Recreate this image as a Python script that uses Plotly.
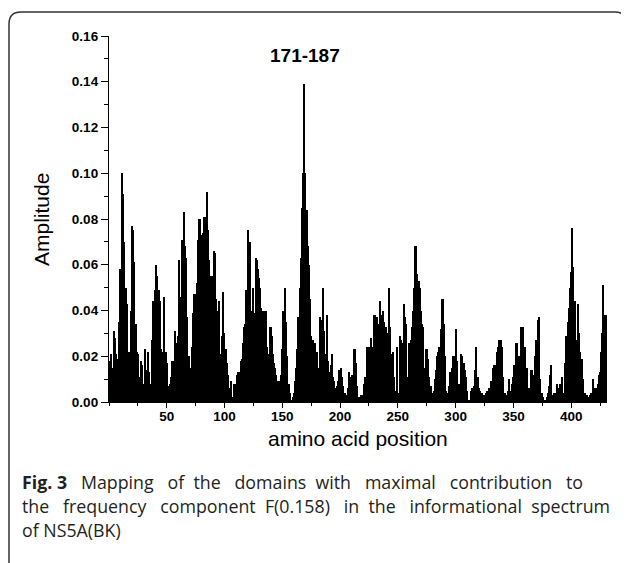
import plotly.graph_objects as go

# ---- data ----
positions = list(range(1, 431))
amplitude = [
    0.018, 0.021, 0.015, 0.031, 0.028, 0.021, 0.019, 0.013, 0.035, 0.058,
    0.100, 0.091, 0.070, 0.043, 0.050, 0.043, 0.022, 0.021, 0.040, 0.077,
    0.075, 0.061, 0.034, 0.022, 0.021, 0.011, 0.007, 0.018, 0.016, 0.008,
    0.023, 0.010, 0.014, 0.022, 0.013, 0.008, 0.027, 0.044, 0.044, 0.049,
    0.060, 0.055, 0.049, 0.044, 0.023, 0.022, 0.021, 0.046, 0.022, 0.017,
    0.007, 0.006, 0.008, 0.011, 0.018, 0.018, 0.031, 0.026, 0.026, 0.029,
    0.062, 0.046, 0.071, 0.071, 0.083, 0.068, 0.063, 0.037, 0.020, 0.015,
    0.012, 0.024, 0.039, 0.047, 0.047, 0.052, 0.071, 0.080, 0.080, 0.073,
    0.074, 0.081, 0.081, 0.077, 0.092, 0.075, 0.062, 0.055, 0.054, 0.055,
    0.066, 0.065, 0.045, 0.040, 0.044, 0.021, 0.018, 0.029, 0.048, 0.030,
    0.023, 0.017, 0.012, 0.006, 0.003, 0.009, 0.002, 0.008, 0.002, 0.008,
    0.012, 0.013, 0.013, 0.018, 0.019, 0.026, 0.033, 0.034, 0.049, 0.075,
    0.058, 0.070, 0.040, 0.036, 0.050, 0.039, 0.063, 0.062, 0.058, 0.054,
    0.050, 0.041, 0.040, 0.040, 0.040, 0.040, 0.024, 0.021, 0.033, 0.033,
    0.029, 0.021, 0.017, 0.015, 0.012, 0.009, 0.009, 0.009, 0.012, 0.023,
    0.040, 0.050, 0.035, 0.020, 0.008, 0.008, 0.004, 0.001, 0.002, 0.004,
    0.009, 0.015, 0.023, 0.037, 0.050, 0.063, 0.085, 0.100, 0.139, 0.100,
    0.084, 0.068, 0.060, 0.045, 0.029, 0.018, 0.027, 0.026, 0.020, 0.022,
    0.015, 0.015, 0.037, 0.036, 0.050, 0.031, 0.018, 0.021, 0.038, 0.018,
    0.013, 0.016, 0.021, 0.011, 0.009, 0.006, 0.007, 0.009, 0.014, 0.010,
    0.015, 0.011, 0.007, 0.004, 0.003, 0.003, 0.006, 0.013, 0.011, 0.012,
    0.006, 0.023, 0.023, 0.017, 0.007, 0.002, 0.002, 0.003, 0.002, 0.003,
    0.008, 0.011, 0.024, 0.017, 0.024, 0.018, 0.028, 0.024, 0.038, 0.038,
    0.037, 0.037, 0.034, 0.034, 0.044, 0.038, 0.040, 0.035, 0.033, 0.033,
    0.030, 0.050, 0.033, 0.021, 0.011, 0.022, 0.011, 0.005, 0.024, 0.004,
    0.003, 0.029, 0.027, 0.026, 0.043, 0.037, 0.034, 0.011, 0.004, 0.026,
    0.027, 0.033, 0.040, 0.050, 0.068, 0.068, 0.056, 0.053, 0.050, 0.040,
    0.034, 0.033, 0.015, 0.023, 0.023, 0.019, 0.011, 0.007, 0.007, 0.004,
    0.005, 0.010, 0.014, 0.020, 0.022, 0.024, 0.032, 0.045, 0.045, 0.034,
    0.020, 0.005, 0.004, 0.007, 0.013, 0.013, 0.015, 0.020, 0.020, 0.032,
    0.018, 0.007, 0.008, 0.008, 0.021, 0.020, 0.017, 0.014, 0.011, 0.005,
    0.001, 0.001, 0.005, 0.006, 0.006, 0.007, 0.014, 0.024, 0.011, 0.006,
    0.005, 0.004, 0.004, 0.002, 0.003, 0.004, 0.005, 0.001, 0.006, 0.006,
    0.009, 0.015, 0.016, 0.016, 0.016, 0.022, 0.024, 0.027, 0.027, 0.024,
    0.011, 0.004, 0.004, 0.003, 0.005, 0.010, 0.005, 0.005, 0.008, 0.011,
    0.016, 0.026, 0.026, 0.016, 0.020, 0.018, 0.033, 0.033, 0.021, 0.024,
    0.012, 0.015, 0.006, 0.006, 0.014, 0.014, 0.004, 0.012, 0.020, 0.027,
    0.036, 0.037, 0.010, 0.004, 0.004, 0.002, 0.001, 0.001, 0.002, 0.004,
    0.007, 0.012, 0.016, 0.003, 0.004, 0.003, 0.004, 0.008, 0.006, 0.008,
    0.008, 0.011, 0.004, 0.004, 0.017, 0.029, 0.035, 0.041, 0.050, 0.057,
    0.076, 0.059, 0.044, 0.027, 0.027, 0.043, 0.030, 0.022, 0.019, 0.010,
    0.004, 0.004, 0.003, 0.003, 0.002, 0.003, 0.004, 0.004, 0.010, 0.005,
    0.006, 0.006, 0.008, 0.012, 0.013, 0.022, 0.030, 0.051, 0.038, 0.038,
]
x_ticks = [50, 100, 150, 200, 250, 300, 350, 400]
peak_label = "171-187"
peak_label_pos = 170
peak_label_y = 0.1515
x_title = "amino acid position"
y_title = "Amplitude"
caption_words = [
    ["<b>Fig.", "3</b>", "Mapping", "of", "the", "domains", "with", "maximal", "contribution", "to"],
    ["the", "frequency", "component", "F(0.158)", "in", "the", "informational", "spectrum"],
    ["of", "NS5A(BK)"],
]
caption_extra_spaces = [
    [0, 2, 2, 1, 2, 1, 2, 2, 2],
    [2, 2, 1, 2, 1, 2, 1],
    [0],
]

# ---- layout geometry ----
OFF = 8                      # page body margin in the browser
W, H = 629 - OFF, 563 - OFF  # figure size
L, R, T, B = 101, 22, 28, 161
pw, ph = W - L - R, H - T - B


def px(sx):
    """screen pixel x -> paper x"""
    return (sx - OFF - L) / pw


def py(sy):
    """screen pixel y -> paper y"""
    return (H - B - (sy - OFF)) / ph


fig = go.Figure()
fig.add_trace(go.Bar(x=positions, y=amplitude, marker=dict(color="black", line=dict(width=0)),
                     width=1.0, showlegend=False, hoverinfo="x+y"))

axis_font = dict(family="Liberation Sans, Arial, sans-serif", size=13.5, color="black", weight="bold")

fig.update_layout(
    width=W, height=H,
    margin=dict(l=L, r=R, t=T, b=B, pad=0),
    paper_bgcolor="white", plot_bgcolor="white",
    bargap=0,
    xaxis=dict(range=[0, 431], tickvals=x_ticks, ticks="outside", ticklen=5, tickwidth=1.3,
               tickcolor="black", showline=True, linecolor="black", linewidth=1.3,
               showgrid=False, zeroline=False, tickfont=axis_font, ticklabelstandoff=-3,
               minor=dict(dtick=25, tick0=0, ticks="outside", ticklen=3, tickcolor="black", tickwidth=1.3)),
    yaxis=dict(range=[0, 0.16], dtick=0.02, tick0=0, tickformat=".2f", ticks="outside", ticklen=7,
               tickwidth=1.3, tickcolor="black", showline=True, linecolor="black", linewidth=1.3,
               showgrid=False, zeroline=False, tickfont=axis_font,
               minor=dict(dtick=0.01, ticks="outside", ticklen=4, tickcolor="black", tickwidth=1.3)),
)

# peak label
fig.add_annotation(x=peak_label_pos, y=peak_label_y, xref="x", yref="y", text="<b>%s</b>" % peak_label,
                   showarrow=False, xanchor="center", yanchor="middle",
                   font=dict(family="Liberation Sans, Arial, sans-serif", size=19, color="black"))

# axis titles
fig.add_annotation(x=px(358), y=py(438), xref="paper", yref="paper", text=x_title, showarrow=False,
                   xanchor="center", yanchor="middle",
                   font=dict(family="Liberation Sans, Arial, sans-serif", size=21, color="black"))
fig.add_annotation(x=px(41), y=py(220), xref="paper", yref="paper", text=y_title, showarrow=False,
                   textangle=-90, xanchor="center", yanchor="middle",
                   font=dict(family="Liberation Sans, Arial, sans-serif", size=21, color="black"))

# caption (approximately justified with extra non-breaking spaces)
for i, (words, extra) in enumerate(zip(caption_words, caption_extra_spaces)):
    text = words[0]
    for w, k in zip(words[1:], extra):
        text += " " + "\u00a0" * k + w
    fig.add_annotation(x=px(20), y=py(482 + 24 * i), xref="paper", yref="paper", text=text,
                       showarrow=False, xanchor="left", yanchor="middle",
                       font=dict(family="Open Sans, sans-serif", size=17.8, color="#231f20"))

# rounded frame around the figure (bottom edge lies outside the picture)
x0, x1, y0, y1, r = px(9), px(627), py(12), py(600), 12
rx, ry = r / pw, r / ph
path = (f"M {x0},{y1} L {x0},{y0 - ry} Q {x0},{y0} {x0 + rx},{y0} "
        f"L {x1 - rx},{y0} Q {x1},{y0} {x1},{y0 - ry} L {x1},{y1}")
fig.add_shape(type="path", path=path, xref="paper", yref="paper",
              line=dict(color="#333333", width=1.5))

fig.write_html("out.html")
